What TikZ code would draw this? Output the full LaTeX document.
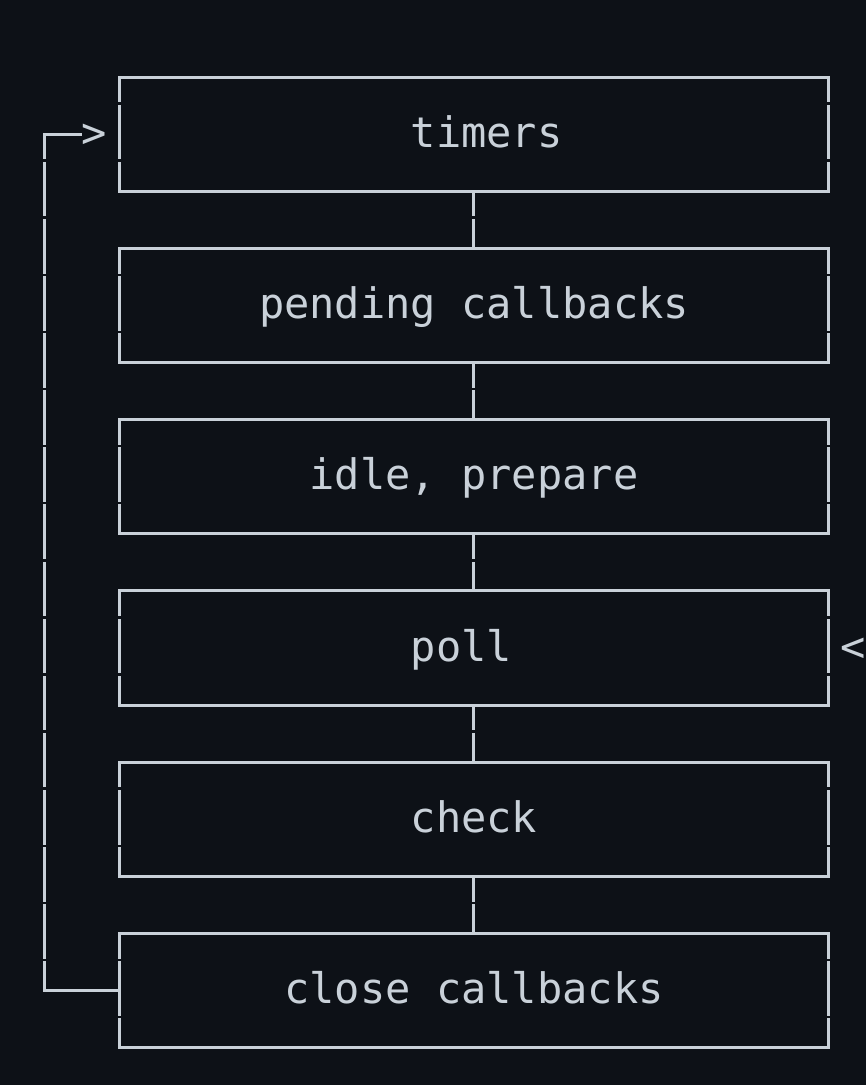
\documentclass[tikz,border=0pt]{standalone}
\usepackage{fontspec}
\setmonofont{DejaVu Sans Mono}
\definecolor{bgc}{HTML}{0D1117}
\definecolor{fgc}{RGB}{201,209,217}
\begin{document}
\begin{tikzpicture}[x=1pt,y=-1pt,
  phase/.style={draw=fgc,line width=3pt,rectangle,minimum width=709pt,minimum height=114.2pt,inner sep=0pt,outer sep=0pt},
  label/.style={text=fgc,inner sep=0pt,outer sep=0pt,anchor=base west,font=\ttfamily\fontsize{42}{50}\selectfont},
  wire/.style={draw=fgc,line width=3pt},
  gapfill/.style={fill=bgc}]
\fill[bgc] (0,0) rectangle (866,1085);
\useasboundingbox (0,0) rectangle (866,1085);
% boxes
\node[phase] (b1) at (473.5,134.1) {};
\node[phase] (b2) at (473.5,305.4) {};
\node[phase] (b3) at (473.5,476.7) {};
\node[phase] (b4) at (473.5,648.0) {};
\node[phase] (b5) at (473.5,819.3) {};
\node[phase] (b6) at (473.5,990.6) {};
% texts
\node[label] (t1) at (410.85,147.1) {timers};
\node[label] (t2) at (259.05,318.4) {pending callbacks};
\node[label] (t3) at (309.65,489.7) {idle, prepare};
\node[label] (t4) at (410.85,661.0) {poll};
\node[label] (t5) at (410.85,832.3) {check};
\node[label] (t6) at (284.35,1003.6) {close callbacks};
\node[label] (arr) at (81.95,147.1) {>};
\node[label] (inc) at (840.95,661.0) {<};
% connectors
\draw[wire] (b1.south) -- (b2.north);
\draw[wire] (b2.south) -- (b3.north);
\draw[wire] (b3.south) -- (b4.north);
\draw[wire] (b4.south) -- (b5.north);
\draw[wire] (b5.south) -- (b6.north);
\coordinate (lb) at (44,990.6);
\coordinate (lt) at (44,134.1);
\draw[wire,line join=miter] (b6.west) -- (lb) -- (lt) -- (lt -| arr.west);
% character-cell seams in vertical strokes
\foreach \t in {77,248.3,419.6,590.9,762.2,933.5}{
  \foreach \d in {26.5,83.6}{
    \fill[gapfill] (116,\t+\d-1.25) rectangle (122,\t+\d+1.25);
    \fill[gapfill] (825,\t+\d-1.25) rectangle (831,\t+\d+1.25);
  }
}
\foreach \t in {77,248.3,419.6,590.9,762.2}{
  \fill[gapfill] (470.5,\t+140.7-1.25) rectangle (476.5,\t+140.7+1.25);
}
\foreach \k in {0,...,14}{
  \fill[gapfill] (41,160.6+57.1*\k-1.25) rectangle (47,160.6+57.1*\k+1.25);
}
\end{tikzpicture}
\end{document}
